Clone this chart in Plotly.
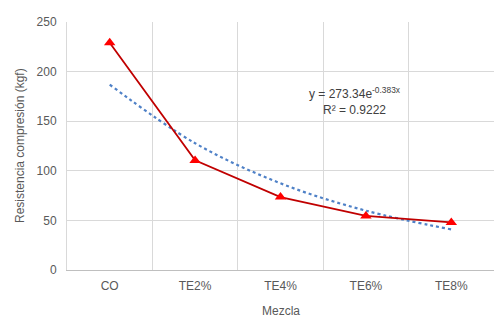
import plotly.graph_objects as go

categories = ["CO", "TE2%", "TE4%", "TE6%", "TE8%"]
resistencia = [229, 110.5, 73.5, 54.5, 48]
tendencia = [186.9, 127.8, 87.4, 59.8, 40.9]  # exponential trendline y = 273.34e^-0.383x read at each category
y_ticks = [0, 50, 100, 150, 200, 250]

fig = go.Figure()
fig.add_trace(go.Scatter(
    x=categories, y=tendencia, mode="lines",
    line=dict(color="#4F81C7", width=2.2, dash="dot", shape="spline"),
    showlegend=False, hoverinfo="skip"))
fig.add_trace(go.Scatter(
    x=categories, y=resistencia, mode="lines+markers",
    line=dict(color="#C00000", width=1.8),
    marker=dict(symbol="triangle-up", size=10, color="#FF0000"),
    showlegend=False))

font = dict(family="Liberation Sans, Arial, sans-serif", size=12, color="#595959")

fig.update_layout(
    width=504, height=325,
    margin=dict(l=67, r=10, t=22, b=55),
    paper_bgcolor="white", plot_bgcolor="white",
    font=font,
    xaxis=dict(
        type="category", range=[-0.5, 4.5], tickson="boundaries",
        showgrid=True, gridcolor="#D9D9D9", gridwidth=1,
        showline=True, linecolor="#BFBFBF", linewidth=1,
        ticks="", tickfont=font, ticklabelstandoff=5, automargin=False,
    ),
    yaxis=dict(
        range=[0, 250], tickvals=y_ticks,
        showgrid=True, gridcolor="#D9D9D9", gridwidth=1,
        zeroline=False, showline=True, linecolor="#D9D9D9",
        ticks="", tickfont=font, ticklabelstandoff=7, automargin=False,
    ),
    annotations=[
        dict(
            xref="paper", yref="y", x=0.674, y=170,
            xanchor="center", yanchor="middle",
            text="y = 273.34e<sup>-0.383x</sup><br>R² = 0.9222",
            showarrow=False, align="center",
            font=dict(family="Liberation Sans, Arial, sans-serif", size=12, color="#404040"),
        ),
        dict(
            xref="paper", yref="paper", x=0.5, y=-0.165,
            xanchor="center", yanchor="middle",
            text="Mezcla", showarrow=False, font=font,
        ),
        dict(
            xref="paper", yref="paper", x=-0.110, y=0.5,
            xanchor="center", yanchor="middle", textangle=-90,
            text="Resistencia compresión (kgf)", showarrow=False, font=font,
        ),
    ],
)

fig.write_html("out.html")
